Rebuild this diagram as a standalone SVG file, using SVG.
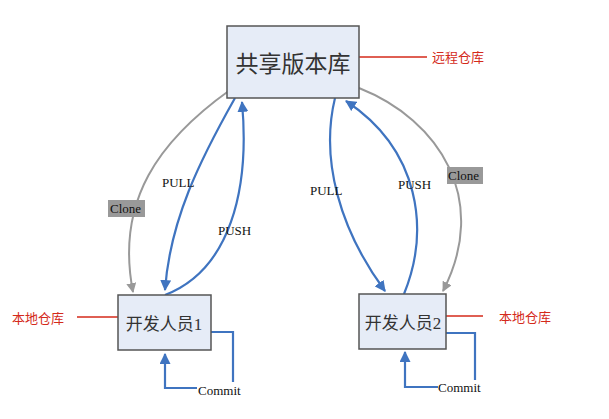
<svg xmlns="http://www.w3.org/2000/svg" width="609" height="419" viewBox="0 0 609 419">
<style>
.box{fill:#e6ecf7;stroke:#555;stroke-width:1.5}
.nt{font-family:"Liberation Serif","Noto Sans CJK SC",serif;fill:#333}
.lbl{font-family:"Liberation Serif",serif;font-size:13px;fill:#111}
.red{font-family:"Noto Sans CJK SC",sans-serif;font-size:13px;fill:#d42a1a}
.g{fill:none;stroke:#999;stroke-width:2}
.b{fill:none;stroke:#3f74c0;stroke-width:2.2}
.r{stroke:#d42a1a;stroke-width:1.3}
</style>
<defs>
<marker id="ab" viewBox="0 0 10 10" refX="9" refY="5" markerWidth="5" markerHeight="5" orient="auto"><path d="M0,0L10,5L0,10z" fill="#3f74c0"/></marker>
<marker id="ag" viewBox="0 0 10 10" refX="9" refY="5" markerWidth="5" markerHeight="5" orient="auto"><path d="M0,0L10,5L0,10z" fill="#999"/></marker>
</defs>
<rect width="609" height="419" fill="#fff"/>
<g id="connectors">
<path class="g" d="M230,90 C160,140 115,200 133,292" marker-end="url(#ag)"/>
<path class="g" d="M359,88 C440,120 490,200 443,291" marker-end="url(#ag)"/>
<path class="b" d="M235,98 C200,160 170,220 165,290" marker-end="url(#ab)"/>
<path class="b" d="M165,295 C230,270 250,190 242,102" marker-end="url(#ab)"/>
<path class="b" d="M335,98 C320,160 340,230 385,291" marker-end="url(#ab)"/>
<path class="b" d="M404,294 C430,230 420,150 346,101" marker-end="url(#ab)"/>
<path class="b" d="M211,332 H233 V382"/>
<path class="b" d="M197,388 H165 V354" marker-end="url(#ab)"/>
<path class="b" d="M446,333 H475 V380"/>
<path class="b" d="M438,387 H405 V352" marker-end="url(#ab)"/>
<rect x="108" y="200" width="37" height="17" fill="#999"/>
<text class="lbl" x="110" y="213">Clone</text>
<rect x="447" y="167" width="36" height="17" fill="#999"/>
<text class="lbl" x="448" y="180">Clone</text>
<text class="lbl" x="162" y="187">PULL</text>
<text class="lbl" x="218" y="235">PUSH</text>
<text class="lbl" x="310" y="195">PULL</text>
<text class="lbl" x="398" y="189">PUSH</text>
<text class="lbl" x="198" y="395">Commit</text>
<text class="lbl" x="438" y="392">Commit</text>
<line class="r" x1="359" y1="57" x2="427" y2="57"/>
<line class="r" x1="77" y1="317" x2="118" y2="317"/>
<line class="r" x1="446" y1="316" x2="483" y2="316"/>
<text class="red" x="432" y="62">远程仓库</text>
<text class="red" x="12" y="323">本地仓库</text>
<text class="red" x="499" y="322">本地仓库</text>
</g>
<g id="shared"><rect class="box" x="227" y="26" width="132" height="72"/><text class="nt" x="293" y="72" font-size="23" text-anchor="middle">共享版本库</text></g>
<g id="dev1"><rect class="box" x="118" y="295" width="93" height="55"/><text class="nt" x="164" y="330" font-size="17" text-anchor="middle">开发人员1</text></g>
<g id="dev2"><rect class="box" x="359" y="294" width="87" height="55"/><text class="nt" x="403" y="329" font-size="17" text-anchor="middle">开发人员2</text></g>
</svg>
